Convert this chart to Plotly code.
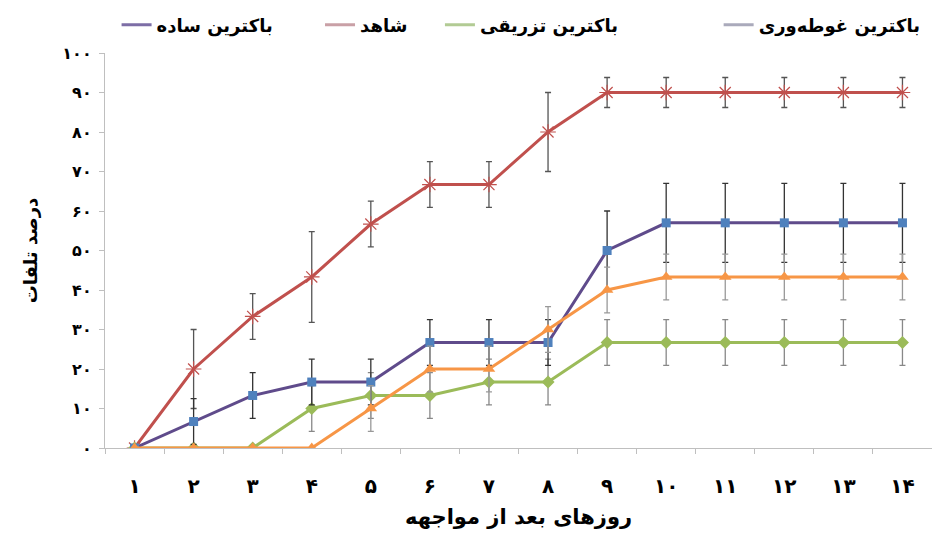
import plotly.graph_objects as go

# Days after exposure and their Persian labels
days = list(range(1, 15))
day_labels = ["۱", "۲", "۳", "۴", "۵", "۶", "۷", "۸", "۹", "۱۰", "۱۱", "۱۲", "۱۳", "۱۴"]

# Y tick labels (mortality percent)
y_vals = [0, 10, 20, 30, 40, 50, 60, 70, 80, 90, 100]
y_labels = ["۰", "۱۰", "۲۰", "۳۰", "۴۰", "۵۰", "۶۰", "۷۰", "۸۰", "۹۰", "۱۰۰"]

# Series names
name_simple = "باکترین ساده"
name_control = "شاهد"
name_inject = "باکترین تزریقی"
name_immerse = "باکترین غوطه‌وری"

# Cumulative mortality (%) per day
simple = [0, 6.7, 13.3, 16.7, 16.7, 26.7, 26.7, 26.7, 50, 57, 57, 57, 57, 57]
simple_err = [0, 5.8, 5.8, 5.8, 5.8, 5.8, 5.8, 5.8, 10, 10, 10, 10, 10, 10]

control = [0, 20, 33.3, 43.3, 56.7, 66.7, 66.7, 80, 90, 90, 90, 90, 90, 90]
control_err = [0, 10, 5.8, 11.5, 5.8, 5.8, 5.8, 10, 3.8, 3.8, 3.8, 3.8, 3.8, 3.8]

inject = [0, 0, 0, 10, 13.3, 13.3, 16.7, 16.7, 26.7, 26.7, 26.7, 26.7, 26.7, 26.7]
inject_err = [0, 0, 0, 5.8, 5.8, 5.8, 5.8, 5.8, 5.8, 5.8, 5.8, 5.8, 5.8, 5.8]

immerse = [0, 0, 0, 0, 10, 20, 20, 30, 40, 43.3, 43.3, 43.3, 43.3, 43.3]
immerse_err = [0, 0, 0, 0, 5.8, 5.8, 5.8, 5.8, 5.8, 5.8, 5.8, 5.8, 5.8, 5.8]

FONT = "DejaVu Sans"

fig = go.Figure()


def add_series(y, err, line_color, marker, err_color):
    fig.add_trace(go.Scatter(
        x=days, y=y, mode="lines+markers", showlegend=False,
        line=dict(color=line_color, width=3),
        marker=marker,
        error_y=dict(type="data", array=err, visible=True,
                     color=err_color, thickness=1.3, width=3),
        hoverinfo="skip",
    ))


add_series(control, control_err, "#c0504d",
           dict(symbol="asterisk-open", size=13,
                line=dict(color="#bdb0b0", width=1.2)), "#555555")
add_series(inject, inject_err, "#9bbb59",
           dict(symbol="diamond", size=10, color="#9bbb59"), "#888888")
add_series(simple, simple_err, "#5f4b8b",
           dict(symbol="square", size=9, color="#4f81bd"), "#333333")
add_series(immerse, immerse_err, "#f79646",
           dict(symbol="triangle-up", size=11, color="#f79646"), "#999999")

# Legend entries, one legend per item for exact placement
legend_items = [
    (name_simple, "#7d6ea6", "legend", 0.014),
    (name_control, "#c9a0a6", "legend2", 0.26),
    (name_inject, "#b2cb94", "legend3", 0.405),
    (name_immerse, "#aaaabb", "legend4", 0.742),
]
legend_layout = {}
for nm, col, lg, xpos in legend_items:
    fig.add_trace(go.Scatter(
        x=[None], y=[None], mode="lines", name=nm, legend=lg,
        line=dict(color=col, width=3), showlegend=True,
    ))
    legend_layout[lg] = dict(
        x=xpos, y=1.071, xanchor="left", yanchor="middle",
        orientation="h", bgcolor="rgba(0,0,0,0)",
        font=dict(family=FONT, size=18, color="#000000", weight="bold"),
        itemclick=False, itemdoubleclick=False,
    )

fig.update_layout(
    width=932, height=540,
    margin=dict(l=105, r=0, t=53, b=92, autoexpand=False),
    paper_bgcolor="white", plot_bgcolor="white",
    font=dict(family=FONT, color="#000000"),
    xaxis=dict(
        range=[0.5, 14.5], tickvals=days, ticktext=day_labels,
        ticks="", showgrid=False, zeroline=False, automargin=False,
        showline=True, linecolor="#bfbfbf", linewidth=1.3,
        tickfont=dict(family=FONT, size=20, weight="bold"),
        ticklabelstandoff=20,
        minor=dict(tickvals=[d + 0.5 for d in range(0, 15)],
                   ticks="outside", ticklen=5, tickcolor="#bfbfbf", showgrid=False),
        title=dict(text="روزهای بعد از مواجهه", standoff=12,
                   font=dict(family=FONT, size=21, weight="bold")),
    ),
    yaxis=dict(
        range=[0, 100], tickvals=y_vals, ticktext=y_labels,
        ticks="outside", ticklen=5, tickcolor="#bfbfbf",
        showgrid=False, zeroline=False, automargin=False,
        showline=True, linecolor="#bfbfbf", linewidth=1.3,
        tickfont=dict(family=FONT, size=16, weight="bold"),
        ticklabelstandoff=4,
        title=dict(text="درصد تلفات", standoff=20,
                   font=dict(family=FONT, size=18, weight="bold")),
    ),
    **legend_layout,
)

fig.write_html("out.html")
